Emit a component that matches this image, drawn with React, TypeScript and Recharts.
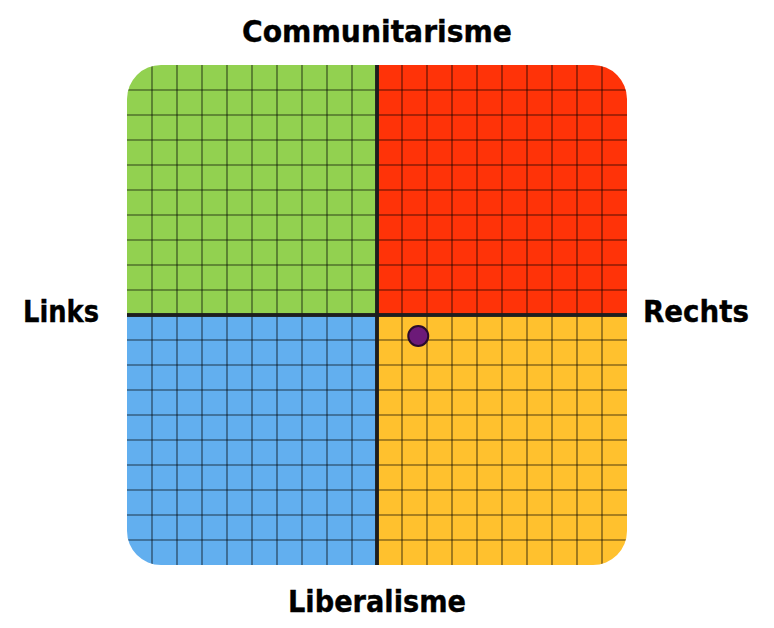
import { ScatterChart, Scatter, XAxis, YAxis, ReferenceArea, ReferenceLine } from "recharts";

// compass scores, -10..10 on both axes
const economic = [1.65];
const social = [-0.84];

const gridTicks = [-9, -8, -7, -6, -5, -4, -3, -2, -1, 0, 1, 2, 3, 4, 5, 6, 7, 8, 9];

const quadrantX1 = [-10, 0, -10, 0];
const quadrantX2 = [0, 10, 0, 10];
const quadrantY1 = [0, 0, -10, -10];
const quadrantY2 = [10, 10, 0, 0];
const quadrantColors = ["#92d150", "#ff3308", "#62afef", "#ffc12e"];

const titleTop = "Communitarisme";
const titleBottom = "Liberalisme";
const titleLeft = "Links";
const titleRight = "Rechts";

const W = 774;
const H = 628;
const margin = { top: 65, right: 147, bottom: 63, left: 127 };
const plotSize = 500;
const cornerRadius = 34;

const points = economic.map((x, i) => ({ x, y: social[i] }));

const titleFont = {
  fontFamily: "'DejaVu Sans', Verdana, sans-serif",
  fontWeight: 700,
  fontSize: 31,
  fill: "#000",
  stroke: "#000",
  strokeWidth: 0.4,
};

function renderTitle(props: any, side: string, text: string, length: number) {
  const { x, y, width, height } = props.viewBox;
  let tx = x + width / 2;
  let ty = y;
  let anchor: "start" | "middle" | "end" = "middle";
  if (side === "top") ty = y - 23;
  if (side === "bottom") ty = y + height + 47;
  if (side === "left") {
    tx = x - 28;
    ty = y + 7;
    anchor = "end";
  }
  if (side === "right") {
    tx = x + width + 16;
    ty = y + 7;
    anchor = "start";
  }
  return (
    <text
      x={tx}
      y={ty}
      textAnchor={anchor}
      textLength={length}
      lengthAdjust="spacingAndGlyphs"
      {...titleFont}
    >
      {text}
    </text>
  );
}

const Dot = (props: any) => (
  <circle cx={props.cx} cy={props.cy} r={10} fill="#6c1a78" stroke="#2a0a2c" strokeWidth={2} />
);

export default function App() {
  return (
    <div style={{ position: "absolute", left: 0, top: 0, width: W, height: H }}>
      <style>{`.grid-line, .recharts-reference-area { clip-path: url(#plotRound); }`}</style>
      <svg width={0} height={0} style={{ position: "absolute" }}>
        <defs>
          <clipPath id="plotRound" clipPathUnits="userSpaceOnUse">
            <rect
              x={margin.left}
              y={margin.top}
              width={plotSize}
              height={plotSize}
              rx={cornerRadius}
              ry={cornerRadius}
            />
          </clipPath>
        </defs>
      </svg>
      <ScatterChart width={W} height={H} margin={margin}>
        <XAxis type="number" dataKey="x" domain={[-10, 10]} hide />
        <YAxis type="number" dataKey="y" domain={[-10, 10]} hide />
        {quadrantColors.map((c, i) => (
          <ReferenceArea
            key={`q-${i}`}
            x1={quadrantX1[i]}
            x2={quadrantX2[i]}
            y1={quadrantY1[i]}
            y2={quadrantY2[i]}
            fill={c}
            fillOpacity={1}
            stroke="none"
          />
        ))}
        {gridTicks.map((t) => (
          <ReferenceLine
            key={`gx-${t}`}
            className="grid-line"
            x={t}
            stroke="#000"
            strokeOpacity={0.68}
            strokeWidth={1.1}
          />
        ))}
        {gridTicks.map((t) => (
          <ReferenceLine
            key={`gy-${t}`}
            className="grid-line"
            y={t}
            stroke="#000"
            strokeOpacity={0.68}
            strokeWidth={1.1}
          />
        ))}
        <ReferenceLine
          x={0}
          stroke="#1e1e1e"
          strokeWidth={3.5}
          label={(p: any) => renderTitle(p, "top", titleTop, 270)}
        />
        <ReferenceLine
          x={0}
          stroke="#1e1e1e"
          strokeWidth={3.5}
          label={(p: any) => renderTitle(p, "bottom", titleBottom, 178)}
        />
        <ReferenceLine
          y={0}
          stroke="#1e1e1e"
          strokeWidth={3.5}
          label={(p: any) => renderTitle(p, "left", titleLeft, 76)}
        />
        <ReferenceLine
          y={0}
          stroke="#1e1e1e"
          strokeWidth={3.5}
          label={(p: any) => renderTitle(p, "right", titleRight, 106)}
        />
        <Scatter data={points} shape={Dot} isAnimationActive={false} />
      </ScatterChart>
    </div>
  );
}
